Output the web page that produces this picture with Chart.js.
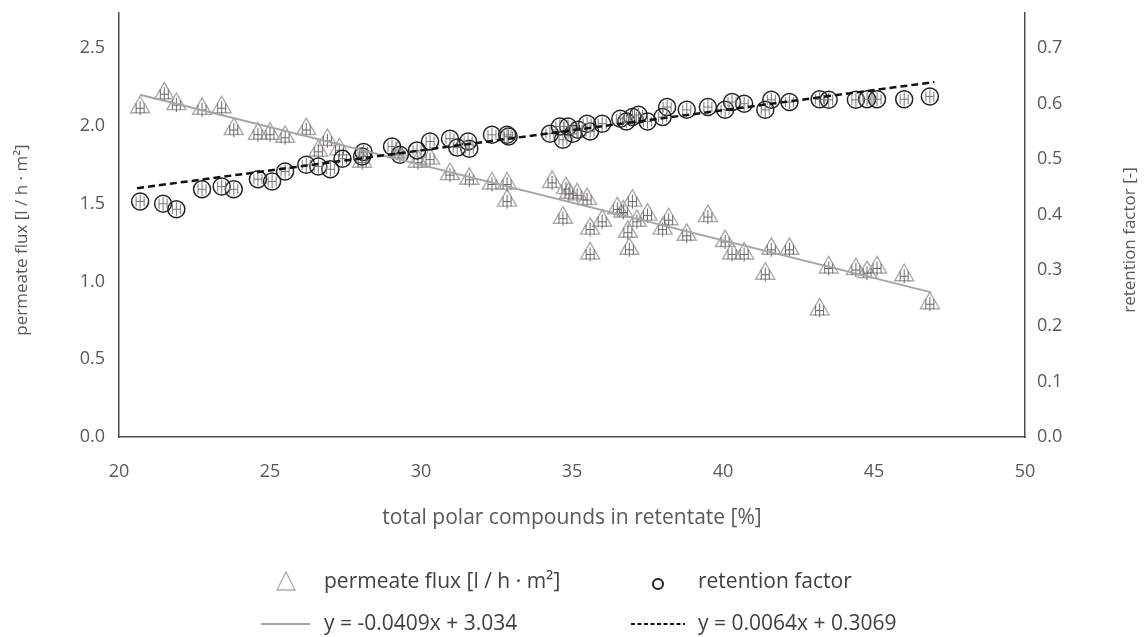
<!DOCTYPE html>
<html lang="en">
<head>
  <meta charset="UTF-8">
  <title>Permeate flux and retention factor</title>
  <script src="https://cdn.jsdelivr.net/npm/chart.js"></script>
  <style>
    html, body { margin: 0; padding: 0; background: #fff; }
    #wrap { width: 1146px; height: 637px; }
  </style>
</head>
<body>
  <div id="wrap"><canvas id="fluxChart" width="1146" height="637"></canvas></div>

  <script>
    // permeate flux [l / h · m²] vs total polar compounds [%]
    const fluxX = [20.7, 21.5, 21.9, 22.75, 23.4, 23.8, 24.6, 25.0, 25.5, 26.2, 26.6, 26.9, 27.3,
      28.05, 29.24, 29.9, 30.3, 30.96, 31.6, 32.35, 32.85, 32.85, 34.34, 34.8, 34.9, 34.7, 35.17,
      35.5, 35.6, 35.6, 36.0, 36.5, 36.7, 37.0, 36.85, 36.9, 37.15, 37.5, 38.0, 38.2, 38.8, 39.5,
      40.07, 40.3, 40.7, 41.4, 41.6, 42.2, 43.2, 43.5, 44.4, 44.77, 45.1, 46.0, 46.85];
    const fluxY = [2.12, 2.21, 2.14, 2.11, 2.12, 1.98, 1.95, 1.95, 1.93, 1.98, 1.84, 1.91, 1.85,
      1.77, 1.83, 1.77, 1.79, 1.69, 1.66, 1.63, 1.63, 1.52, 1.64, 1.60, 1.57, 1.41, 1.56,
      1.53, 1.34, 1.18, 1.39, 1.47, 1.45, 1.52, 1.32, 1.21, 1.39, 1.43, 1.34, 1.40, 1.30, 1.42,
      1.26, 1.18, 1.18, 1.05, 1.21, 1.21, 0.82, 1.09, 1.08, 1.06, 1.09, 1.04, 0.86];

    // retention factor [-]
    const retX = [20.7, 21.46, 21.9, 22.75, 23.4, 23.8, 24.6, 25.07, 25.5, 26.2, 26.6, 27.0, 27.4,
      28.05, 28.1, 29.04, 29.3, 29.87, 30.3, 30.96, 31.2, 31.56, 31.6, 32.35, 32.85, 32.9,
      34.27, 34.6, 34.7, 34.87, 35.03, 35.2, 35.5, 35.6, 36.0, 36.6, 36.8, 37.0, 37.2, 37.5,
      38.0, 38.15, 38.8, 39.5, 40.07, 40.3, 40.7, 41.4, 41.6, 42.2, 43.2, 43.5, 44.4, 44.77,
      45.1, 46.0, 46.85];
    const retY = [0.424, 0.42, 0.41, 0.446, 0.451, 0.446, 0.464, 0.46, 0.478, 0.49, 0.487, 0.482, 0.501,
      0.505, 0.513, 0.523, 0.508, 0.516, 0.532, 0.537, 0.521, 0.532, 0.519, 0.544, 0.544, 0.541,
      0.546, 0.559, 0.535, 0.559, 0.546, 0.553, 0.564, 0.55, 0.564, 0.573, 0.568, 0.576, 0.58, 0.568,
      0.576, 0.594, 0.589, 0.594, 0.589, 0.603, 0.60, 0.589, 0.607, 0.603, 0.608, 0.607, 0.607, 0.608,
      0.608, 0.608, 0.613];

    // trend lines as drawn in the figure
    const fluxTrendX = [20.7, 46.9];
    const fluxTrendY = [2.2, 0.93];
    const retTrendX = [20.6, 47.0];
    const retTrendY = [0.448, 0.639];

    const xTicks = [20, 25, 30, 35, 40, 45, 50];
    const fluxTicks = [0, 0.5, 1.0, 1.5, 2.0, 2.5];
    const retTicks = [0, 0.1, 0.2, 0.3, 0.4, 0.5, 0.6, 0.7];

    const legendText = ["permeate flux [l / h · m²]", "retention factor",
      "y = -0.0409x + 3.034", "y = 0.0064x + 0.3069"];

    const pts = (xs, ys) => xs.map((x, i) => ({ x: x, y: ys[i] }));
    const tickColor = "#595959";
    const font = "'Open Sans', sans-serif";

    // little error-bar marks inside each marker
    const errorMarks = {
      id: "errorMarks",
      afterDatasetDraw(chart, args) {
        const ds = chart.data.datasets[args.index];
        if (!ds.errMark) return;
        const ctx = chart.ctx;
        ctx.save();
        ctx.strokeStyle = ds.errMark;
        ctx.lineWidth = 1;
        args.meta.data.forEach(p => {
          const x = p.x, y = p.y + (ds.pointStyle === "triangle" ? 1 : 0);
          ctx.beginPath();
          ctx.moveTo(x - 4, y); ctx.lineTo(x + 4, y);
          ctx.moveTo(x - 4, y - 5); ctx.lineTo(x - 4, y + 5);
          ctx.moveTo(x + 4, y - 5); ctx.lineTo(x + 4, y + 5);
          ctx.moveTo(x, y - 7); ctx.lineTo(x, y + 7);
          ctx.stroke();
        });
        ctx.restore();
      }
    };

    // axis titles on the sides (both read bottom to top) and the two-column legend
    const extras = {
      id: "extras",
      afterDraw(chart) {
        const ctx = chart.ctx;
        ctx.save();
        ctx.fillStyle = tickColor;
        ctx.font = "17px " + font;
        ctx.textAlign = "center";
        ctx.textBaseline = "middle";
        [[22, "permeate flux [l / h · m²]"], [1130, "retention factor [-]"]].forEach(t => {
          ctx.save();
          ctx.translate(t[0], 240);
          ctx.rotate(-Math.PI / 2);
          ctx.fillText(t[1], 0, 0);
          ctx.restore();
        });
        ctx.restore();

        ctx.save();
        ctx.font = "21px " + font;
        ctx.fillStyle = "#404040";
        ctx.textBaseline = "middle";
        ctx.textAlign = "left";
        const r1 = 582, r2 = 624;

        // triangle symbol
        ctx.strokeStyle = "#aeaaa6";
        ctx.lineWidth = 1.3;
        ctx.beginPath();
        ctx.moveTo(286, r1 - 10); ctx.lineTo(295, r1 + 8); ctx.lineTo(277, r1 + 8); ctx.closePath();
        ctx.stroke();
        ctx.fillText(legendText[0], 324, r1);

        // circle symbol
        ctx.strokeStyle = "#222";
        ctx.lineWidth = 2;
        ctx.beginPath();
        ctx.arc(658, r1 + 2, 5, 0, Math.PI * 2);
        ctx.stroke();
        ctx.fillText(legendText[1], 698, r1);

        // solid trend
        ctx.strokeStyle = "#a6a6a6";
        ctx.lineWidth = 2;
        ctx.beginPath();
        ctx.moveTo(261, r2); ctx.lineTo(310, r2);
        ctx.stroke();
        ctx.fillText(legendText[2], 324, r2);

        // dashed trend
        ctx.strokeStyle = "#111";
        ctx.setLineDash([4, 2.5]);
        ctx.beginPath();
        ctx.moveTo(631, r2); ctx.lineTo(685, r2);
        ctx.stroke();
        ctx.setLineDash([]);
        ctx.fillText(legendText[3], 698, r2);
        ctx.restore();
      }
    };

    const noPad = s => { s.paddingTop = 0; s.paddingBottom = 0; };

    new Chart(document.getElementById("fluxChart"), {
      type: "scatter",
      data: {
        datasets: [
          {
            label: legendText[0],
            data: pts(fluxX, fluxY),
            yAxisID: "yFlux",
            pointStyle: "triangle",
            pointRadius: 11,
            borderColor: "#aeaaa6",
            backgroundColor: "rgba(255,255,255,0)",
            borderWidth: 1.4,
            errMark: "#666666",
            order: 4
          },
          {
            label: legendText[1],
            data: pts(retX, retY),
            yAxisID: "yRet",
            pointStyle: "circle",
            pointRadius: 8.5,
            borderColor: "#222222",
            backgroundColor: "rgba(255,255,255,0)",
            borderWidth: 1.5,
            errMark: "#777777",
            order: 3
          },
          {
            label: legendText[2],
            data: pts(fluxTrendX, fluxTrendY),
            yAxisID: "yFlux",
            showLine: true,
            pointRadius: 0,
            borderColor: "#a6a6a6",
            borderWidth: 2,
            order: 2
          },
          {
            label: legendText[3],
            data: pts(retTrendX, retTrendY),
            yAxisID: "yRet",
            showLine: true,
            pointRadius: 0,
            borderColor: "#111111",
            borderWidth: 2.5,
            borderDash: [7, 4],
            order: 1
          }
        ]
      },
      options: {
        responsive: false,
        animation: false,
        layout: { padding: { left: 0, right: 0, top: 10, bottom: 0 } },
        plugins: { legend: { display: false }, tooltip: { enabled: false } },
        scales: {
          x: {
            type: "linear",
            min: 20,
            max: 50,
            afterBuildTicks: s => { s.ticks = xTicks.map(v => ({ value: v })); },
            afterFit: s => { s.height = 200; s.paddingLeft = 0; s.paddingRight = 0; },
            grid: { display: false, drawTicks: false, tickLength: 0 },
            border: { display: true, color: "#4d4d4d", width: 1.5 },
            ticks: { color: tickColor, font: { family: font, size: 18 }, padding: 24 },
            title: {
              display: true,
              text: "total polar compounds in retentate [%]",
              color: tickColor,
              font: { family: font, size: 21 },
              padding: { top: 0, bottom: 106 }
            }
          },
          yFlux: {
            position: "left",
            min: 0,
            max: 2.73,
            afterBuildTicks: s => { s.ticks = fluxTicks.map(v => ({ value: v })); },
            afterFit: s => { s.width = 119; noPad(s); },
            grid: { display: false, drawTicks: false, tickLength: 0 },
            border: { display: true, color: "#4d4d4d", width: 1.5 },
            ticks: { color: tickColor, font: { family: font, size: 18 }, padding: 14,
              callback: v => v.toFixed(1) }
          },
          yRet: {
            position: "right",
            min: 0,
            max: 0.7644,
            afterBuildTicks: s => { s.ticks = retTicks.map(v => ({ value: v })); },
            afterFit: s => { s.width = 121; noPad(s); },
            grid: { display: false, drawTicks: false, tickLength: 0 },
            border: { display: true, color: "#4d4d4d", width: 1.5 },
            ticks: { color: tickColor, font: { family: font, size: 18 }, padding: 12,
              callback: v => v.toFixed(1) }
          }
        }
      },
      plugins: [errorMarks, extras]
    });
  </script>
</body>
</html>
